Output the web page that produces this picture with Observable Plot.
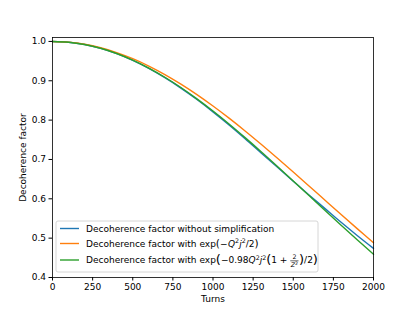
<!DOCTYPE html>
<html><head><meta charset="utf-8">
<script src="https://cdn.jsdelivr.net/npm/d3@7"></script>
<script src="https://cdn.jsdelivr.net/npm/@observablehq/plot@0.6"></script>
<style>html,body{margin:0;padding:0;background:#fff}svg{display:block}</style>
</head><body><div id="chart"></div>
<script>
const turns = [0,100,200,300,400,500,600,700,800,900,1000,1100,1200,1300,1400,1500,1600,1700,1800,1900,2000];
const exactValues = [1.0,0.9980,0.9921,0.9824,0.9689,0.9519,0.9315,0.9079,0.8815,0.8524,0.8210,0.7878,0.7528,0.7166,0.6806,0.6448,0.6092,0.5745,0.5397,0.5063,0.4741];
const gaussValues = [1.0,0.9982,0.9929,0.9840,0.9717,0.9562,0.9375,0.9159,0.8916,0.8649,0.8359,0.8050,0.7725,0.7386,0.7037,0.6681,0.6320,0.5957,0.5595,0.5236,0.4882];
const correctedValues = [1.0,0.9981,0.9922,0.9826,0.9693,0.9525,0.9323,0.9090,0.8829,0.8541,0.8231,0.7902,0.7555,0.7197,0.6828,0.6453,0.6075,0.5697,0.5322,0.4952,0.4590];
const seriesColors = ["#1f77b4","#ff7f0e","#2ca02c"];
const xTicks = [0,250,500,750,1000,1250,1500,1750,2000];
const yTicks = [0.4,0.5,0.6,0.7,0.8,0.9,1.0];

const toRows = vals => turns.map((t,i)=>({turn:t, value:vals[i]}));
const series = [exactValues, gaussValues, correctedValues];

const plot = Plot.plot({
  width:415, height:311,
  marginLeft:52, marginRight:42, marginTop:37, marginBottom:34,
  style:{fontFamily:"DejaVu Sans", fontSize:"9px", background:"#fff", color:"#000", overflow:"visible"},
  x:{domain:[0,2000]},
  y:{domain:[0.4,1.01]},
  marks:[
    ...series.map((vals,i)=>Plot.line(toRows(vals),{x:"turn",y:"value",stroke:seriesColors[i],strokeWidth:1.4,curve:"catmull-rom"})),
    Plot.frame({stroke:"#000", strokeWidth:0.8}),
    Plot.axisX({ticks:xTicks, tickSize:3.5, tickPadding:3, tickFormat:d=>String(d), label:"Turns", labelAnchor:"center", labelArrow:"none", labelOffset:24}),
    Plot.axisY({ticks:yTicks, tickSize:3.5, tickPadding:3, tickFormat:d=>d.toFixed(1), label:"Decoherence factor", labelAnchor:"center", labelArrow:"none", labelOffset:33})
  ]
});
document.getElementById("chart").append(plot);

// Legend
const svg = d3.select(plot);
const g = svg.append("g").attr("font-family","DejaVu Sans").attr("fill","#000").attr("text-anchor","start");
g.append("rect").attr("x",56).attr("y",221).attr("width",262).attr("height",51).attr("rx",2)
  .attr("fill","#fff").attr("fill-opacity",0.8).attr("stroke","#ccc").attr("stroke-width",0.8);

function run(x, y, segs){
  let cx = x;
  for (const s of segs){
    if (s.frac){
      const sz = 6.3;
      const n = g.append("text").attr("x",0).attr("y",y-4).attr("font-size",sz).text(s.num);
      const d = g.append("text").attr("x",0).attr("y",y+3.6).attr("font-size",sz);
      d.append("tspan").attr("font-style","italic").text(s.den);
      d.append("tspan").attr("font-size",4.6).attr("dy",-2.3).text("2");
      const wn = n.node().getComputedTextLength();
      const wd = d.node().getComputedTextLength();
      const w = Math.max(wn, wd) + 1;
      n.attr("x", cx + (w-wn)/2);
      d.attr("x", cx + (w-wd)/2);
      g.append("line").attr("x1",cx).attr("x2",cx+w).attr("y1",y-2.4).attr("y2",y-2.4).attr("stroke","#000").attr("stroke-width",0.6);
      cx += w + 0.5;
      continue;
    }
    const t = g.append("text").attr("x",cx).attr("y",y+(s.dy||0)).attr("font-size",s.sz||9)
      .attr("font-style",s.it?"italic":"normal").style("white-space","pre").text(s.t);
    cx += t.node().getComputedTextLength() + (s.pad||0);
  }
}

const labels = ["Decoherence factor without simplification","Decoherence factor with ","Decoherence factor with "];
const rowY = [228.5, 243.5, 260];
rowY.forEach((ry,i)=>{
  g.append("line").attr("x1",60).attr("x2",79).attr("y1",ry).attr("y2",ry).attr("stroke",seriesColors[i]).attr("stroke-width",1.4);
});
const base = ry => ry + 3.2;
run(86, base(rowY[0]), [{t:labels[0]}]);
run(86, base(rowY[1]), [
  {t:labels[1]},{t:"exp"},{t:"(",sz:10.5,dy:0.5},{t:"−",pad:0.5},{t:"Q",it:true},{t:"2",sz:6.3,dy:-3.6},
  {t:"j",it:true},{t:"2",sz:6.3,dy:-3.6},{t:"/2"},{t:")",sz:10.5,dy:0.5}
]);
run(86, base(rowY[2]), [
  {t:labels[2]},{t:"exp"},{t:"(",sz:13,dy:1},{t:"−0.98"},{t:"Q",it:true},{t:"2",sz:6.3,dy:-3.6},
  {t:"j",it:true},{t:"2",sz:6.3,dy:-3.6},{t:"(",sz:13,dy:1},{t:"1 + "},{frac:true,num:"2",den:"Z"},
  {t:")",sz:13,dy:1},{t:"/2"},{t:")",sz:13,dy:1}
]);
</script>
</body></html>
